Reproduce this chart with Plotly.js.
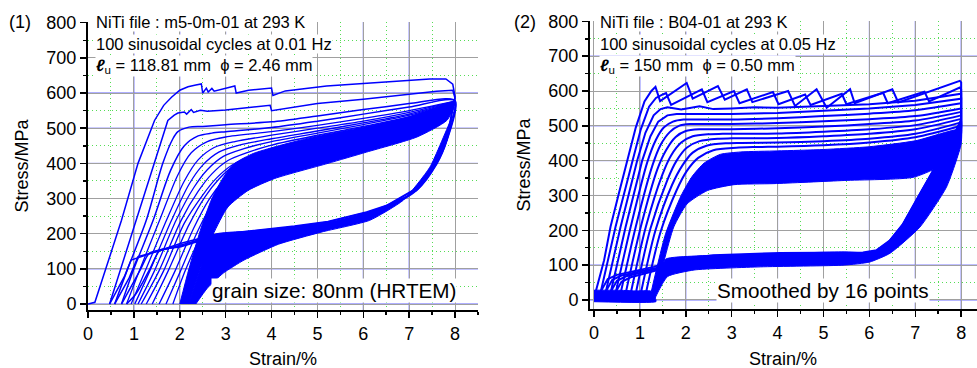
<!DOCTYPE html>
<html><head><meta charset="utf-8">
<script src="https://cdn.plot.ly/plotly-3.0.1.min.js"></script>
<style>html,body{margin:0;padding:0;background:#fff}#chart{width:977px;height:368px}</style>
</head><body><div id="chart"></div>
<script>
// ---------- tick labels ----------
const xTicks = [0,1,2,3,4,5,6,7,8];
const yTicks = [0,100,200,300,400,500,600,700,800];
const blueGridL_x = [1,2,3,4,6,7];
const blueGridL_y = [0,100,400,500,600];
const blueGridR_x = [1,2,3,4,6,7,8];
const blueGridR_y = [0,100,300,400,500,700];

// ---------- panel (1): NiTi m5-0m-01, strain (%) / stress (MPa) ----------
const L1x = [0,0.15,0.4,0.73,1.09,1.45,1.65,1.82,2.0,2.18,2.35,2.47,2.5,2.58,2.62,2.7,2.75,3.2,3.23,3.5,4.0,4.03,4.3,5.2,6.0,7.0,7.45,7.8,7.95,8.0,7.95,7.82,7.6,7.17,6.5,6.07,5.23,4.5,3.5,2.72,2.03,1.5,1.2,0.94,0.8,0.6,0.47];
const L1y = [0,5,105,238,400,522,565,588,608,618,623,626,600,614,603,613,605,620,600,608,614,593,606,620,627,636,640,640,625,590,560,470,405,330,280,262,235,222,208,196,173,150,135,125,80,30,0];
const L2x = [0.47,0.7,1.05,1.45,1.74,1.88,1.96,2.1,2.15,2.25,2.3,2.45,2.6,3.0,3.5,3.97,4.0,4.5,5.0,6.0,7.0,7.6,7.95,8.0,7.82,7.6,7.17,6.5,6.07,5.23,4.5,3.5,2.72,2.03,1.5,1.25,1.09,0.9,0.58];
const L2y = [0,95,238,400,522,537,543,546,540,553,545,551,548,552,558,565,550,560,570,582,597,605,608,585,468,402,328,278,260,233,220,206,194,168,150,142,135,75,0];
const L3x = [0.58,0.85,1.27,1.63,1.85,1.96,2.2,2.5,3.0,4.0,5.0,6.0,7.0,7.8,8.0,7.82,7.6,7.17,6.5,6.07,5.23,4.5,3.5,2.72,2.03,1.6,1.34,1.15,0.9,0.73];
const L3y = [0,95,238,400,470,490,503,505,510,518,535,553,570,584,578,466,400,326,276,258,231,218,204,192,165,155,145,100,40,0];
const L4x = [0.73,1.0,1.42,1.8,2.1,2.4,2.7,3.0,4.0,5.0,6.0,7.0,8.0,7.82,7.6,7.17,6.5,6.07,5.23,4.5,3.5,2.72,2.03,1.75,1.56,1.35,1.05,0.84];
const L4y = [0,100,238,380,450,478,486,490,502,520,540,560,578,464,398,324,274,256,229,216,202,190,163,158,152,100,30,0];
const L5x = [0.84,1.12,1.56,1.95,2.25,2.6,3.0,4.0,5.0,6.0,7.0,8.0];
const L5y = [0,95,238,365,430,462,475,490,508,528,550,577];
const L6x = [0.94,1.25,1.71,2.1,2.4,2.75,3.2,4.0,5.0,6.0,7.0,8.0];
const L6y = [0,95,238,350,410,445,462,480,500,520,545,577];
const L7x = [1.02,1.35,1.82,2.2,2.5,2.85,3.3,4.0,5.0,6.0,7.0,8.0];
const L7y = [0,95,238,340,395,432,452,470,492,515,540,576];
const L8x = [1.09,1.45,1.92,2.3,2.6,2.95,3.4,4.0,5.0,6.0,7.0,8.0];
const L8y = [0,95,238,330,382,420,442,462,486,510,537,575];
const L9x = [1.16,1.55,2.03,2.4,2.7,3.05,3.5,4.0,5.0,6.0,7.0,8.0];
const L9y = [0,95,238,320,370,408,432,452,480,505,533,574];
const L10x = [1.27,1.65,2.1,2.5,2.8,3.15,3.6,4.1,5.0,6.0,7.0,8.0];
const L10y = [0,95,230,310,358,396,423,445,474,500,530,573];
const L12x = [1.4,1.75,2.2,2.55,2.85,3.2,3.65,4.1,5.0,6.0,7.0,8.0];
const L12y = [0,95,225,305,355,395,420,440,470,497,528,572];
const L14x = [1.55,1.9,2.3,2.65,2.95,3.3,3.7,4.2,5.0,6.0,7.0,8.0];
const L14y = [0,95,215,300,350,390,415,437,466,494,526,571];
const L17x = [1.7,2.02,2.4,2.75,3.05,3.4,3.8,4.3,5.0,6.0,7.0,8.0];
const L17y = [0,95,210,295,345,385,410,432,462,492,524,570];
const L21x = [1.85,2.12,2.5,2.85,3.15,3.5,3.9,4.4,5.0,6.0,7.0,8.0];
const L21y = [0,95,205,290,340,380,405,428,458,490,522,570];
const LbandTopX = [2.0,2.2,2.45,2.7,2.95,3.2,3.6,4.1,5.0,6.0,7.0,8.0];
const LbandTopY = [0,100,210,300,360,400,428,448,478,503,532,573];
const LlastX = [2.2,2.45,2.72,3.05,3.49,4.07,5.23,6.07,7.17,7.82,8.0];
const LlastY = [0,100,196,276,323,357,400,432,475,522,565];
const LunloadX = [2.2,2.45,2.72,3.5,4.5,5.23,6.07,7.17,7.6,7.82,8.0,8.0,7.93,7.45,6.87,6.14,5.1,4.15,3.4,2.95,2.6,2.35];
const LunloadY = [0,100,196,207,220,229,258,323,400,465,560,545,530,389,295,238,205,170,125,88,45,0];

// ---------- panel (2): NiTi B04-01 ----------
const R1x = [0.0,0.04,0.22,0.36,0.54,0.73,0.91,1.1,1.25,1.34,1.44,2.02,2.15,2.7,2.85,3.33,3.45,4.23,4.38,4.85,5.07,5.58,5.68,6.5,6.63,7.97,8.0,8.0,7.82,7.47,7.1,6.74,6.45,6.16,5.86,4.05,2.6,1.87,1.3,0.8,0.5,0.3,0.15];
const R1y = [25,25,114,210,305,400,495,570,600,612,571,623,578,614,575,605,568,600,557,605,552,605,565,605,567,629,625,500,440,390,305,219,171,143,136,135,128,118,95,82,72,60,25];
const R2x = [0.15,0.47,0.84,1.02,1.2,1.35,1.5,1.57,1.68,2.35,2.47,3.05,3.17,3.9,4.02,4.6,4.72,5.4,5.5,6.3,6.4,7.2,7.3,7.97,8.0,8.0,7.8,7.45,7.08,6.72,6.43,6.14,5.86,4.05,2.6,1.87,1.35,0.9,0.6,0.4,0.26];
const R2y = [25,210,400,490,555,580,590,594,560,605,568,600,565,597,562,590,560,592,562,595,565,598,570,610,605,495,435,385,300,215,168,140,132,131,124,114,92,80,70,58,25];
const R3x = [0.26,0.58,0.94,1.12,1.3,1.45,1.6,1.9,2.3,2.6,3.0,3.5,4.0,5.0,6.0,7.0,8.0,8.0,7.8,7.45,7.08,6.72,6.43,6.14,5.86,4.05,2.6,1.87,1.4,1.0,0.7,0.5,0.37];
const R3y = [25,210,400,480,530,548,553,547,556,548,550,553,552,556,562,572,592,490,430,380,296,212,165,138,130,128,121,111,90,78,68,55,25];
const R4x = [0.37,0.69,1.05,1.23,1.4,1.6,1.8,2.2,3.0,4.0,5.0,6.0,7.0,8.0,8.0,7.8,7.45,7.08,6.72,6.43,6.14,5.86,4.05,2.6,1.87,1.45,1.1,0.8,0.6,0.48];
const R4y = [25,210,400,470,512,530,534,534,534,537,543,550,560,578,485,425,375,292,208,162,136,128,126,119,108,88,75,65,52,25];
const R5x = [0.48,0.8,1.16,1.35,1.52,1.72,1.95,2.3,3.0,4.0,5.0,6.0,7.0,8.0];
const R5y = [25,210,395,460,495,512,518,518,518,522,528,535,545,565];
const R6x = [0.59,0.91,1.27,1.45,1.65,1.85,2.1,2.5,3.0,4.0,5.0,6.0,7.0,8.0];
const R6y = [25,210,385,445,482,500,505,505,505,508,513,519,528,550];
const R7x = [0.7,1.02,1.38,1.57,1.78,2.0,2.3,2.6,3.0,4.0,5.0,6.0,7.0,8.0];
const R7y = [25,210,375,430,468,485,490,490,490,493,498,505,515,540];
const R8x = [0.81,1.13,1.49,1.68,1.9,2.15,2.5,2.8,4.0,5.0,6.0,7.0,8.0];
const R8y = [25,210,360,415,452,470,476,477,478,483,490,502,530];
const R9x = [0.92,1.23,1.6,1.8,2.02,2.3,2.7,3.0,4.0,5.0,6.0,7.0,8.0];
const R9y = [25,205,345,400,437,456,463,464,465,470,477,490,520];
const R10x = [1.03,1.34,1.7,1.92,2.15,2.45,2.9,3.2,4.0,5.0,6.0,7.0,8.0];
const R10y = [25,200,330,385,423,443,450,451,452,456,463,477,510];
const R12x = [1.14,1.45,1.8,2.02,2.27,2.6,3.1,3.5,4.0,5.0,6.0,7.0,8.0];
const R12y = [25,195,315,370,408,430,437,439,440,444,452,467,500];
const RbandTopX = [1.25,1.56,1.9,2.14,2.4,2.75,3.2,4.0,5.0,6.0,7.0,8.0];
const RbandTopY = [25,190,300,355,393,418,425,428,432,440,457,490];
const RlastX = [1.31,1.53,1.74,2.03,2.47,3.05,3.92,5.45,6.95,7.47,7.8,8.0];
const RlastY = [0,114,210,276,314,331,334,343,352,380,420,470];
const RunloadX = [1.31,1.6,2.18,3.63,5.45,6.01,6.45,7.1,7.68,8.0,8.0,7.82,7.47,7.1,6.74,6.45,6.16,5.86,5.45,3.63,2.18,1.56,1.4];
const RunloadY = [0,67,86,95,100,109,134,209,324,448,520,470,390,305,219,171,143,136,138,132,126,117,60];
const RbaseX = [0,1.35,1.35,1.25,0.9,0.5,0];
const RbaseY = [-5,-5,0,25,26,28,28];

const BLUE = '#0000ff';
function line(x, y, ax, w, sm){
  return {x:x, y:y, xaxis:ax[0], yaxis:ax[1], mode:'lines', type:'scatter',
    line: sm ? {color:BLUE, width:w, shape:'spline', smoothing:0.8} : {color:BLUE, width:w}, hoverinfo:'skip'};
}
function band(x1, y1, x2, y2, ax){
  return {x:x1.concat(x2.slice().reverse()), y:y1.concat(y2.slice().reverse()), xaxis:ax[0], yaxis:ax[1], mode:'lines', type:'scatter', fill:'toself', fillcolor:BLUE, line:{color:BLUE, width:1, shape:'spline', smoothing:0.6}, hoverinfo:'skip'};
}
function poly(x, y, ax){return {x:x, y:y, xaxis:ax[0], yaxis:ax[1], mode:'lines', type:'scatter', fill:'toself', fillcolor:BLUE, line:{color:BLUE, width:1, shape:'spline', smoothing:0.5}, hoverinfo:'skip'};}
const A1 = ['x','y'], A2 = ['x2','y2'];

const traces = [
  band(LbandTopX, LbandTopY, LlastX, LlastY, A1),
  poly(LunloadX, LunloadY, A1),
  line(L1x,L1y,A1,1.5,false), line(L2x,L2y,A1,1.5,false), line(L3x,L3y,A1,1.5,true), line(L4x,L4y,A1,1.5,true),
  line(L5x,L5y,A1,1.3,true), line(L6x,L6y,A1,1.3,true), line(L7x,L7y,A1,1.3,true), line(L8x,L8y,A1,1.3,true),
  line(L9x,L9y,A1,1.3,true), line(L10x,L10y,A1,1.3,true), line(L12x,L12y,A1,1.3,true), line(L14x,L14y,A1,1.3,true),
  line(L17x,L17y,A1,1.3,true), line(L21x,L21y,A1,1.3,true),
  band(RbandTopX, RbandTopY, RlastX, RlastY, A2),
  poly(RunloadX, RunloadY, A2),
  poly(RbaseX, RbaseY, A2),
  line(R1x,R1y,A2,2,false), line(R2x,R2y,A2,2,false), line(R3x,R3y,A2,2,false), line(R4x,R4y,A2,2,false),
  line(R5x,R5y,A2,2,true), line(R6x,R6y,A2,2,true), line(R7x,R7y,A2,2,true), line(R8x,R8y,A2,2,true),
  line(R9x,R9y,A2,2,true), line(R10x,R10y,A2,2,true), line(R12x,R12y,A2,2,true)
];

const GRAY = '#a0a0a0', GBLUE = '#5a5aff', GREEN = '#55dd55';
function common(){
  return {showline:true, linecolor:'black', linewidth:2, ticks:'outside', ticklen:6, tickwidth:1.5, tickcolor:'black',
    showgrid:true, gridcolor:GRAY, gridwidth:1, zeroline:false, tickfont:{size:18, color:'black'}, fixedrange:true, tickmode:'array'};
}
function xAx(dom, rng, yanchor){
  return Object.assign(common(), {domain:dom, range:rng, anchor:yanchor, tickvals:xTicks, ticktext:xTicks.map(String),
    minor:{dtick:0.5, tick0:0, ticks:'outside', ticklen:3, tickcolor:'black', tickwidth:1.5, showgrid:true, gridcolor:GREEN, griddash:'1px,3px', gridwidth:1}});
}
function yAx(dom, rng, xanchor){
  return Object.assign(common(), {domain:dom, range:rng, anchor:xanchor, tickvals:yTicks, ticktext:yTicks.map(String),
    minor:{dtick:50, tick0:0, ticks:'outside', ticklen:3, tickcolor:'black', tickwidth:1.5, showgrid:true, gridcolor:GREEN, griddash:'1px,3px', gridwidth:1},
    title:{text:'Stress/MPa', font:{size:18, color:'black'}, standoff:13}});
}

const shapes = [];
blueGridL_x.forEach(v=>shapes.push({type:'line', xref:'x', yref:'y domain', x0:v, x1:v, y0:0, y1:1, line:{color:GBLUE, width:1}, layer:'below'}));
blueGridL_y.forEach(v=>shapes.push({type:'line', xref:'x domain', yref:'y', x0:0, x1:1, y0:v, y1:v, line:{color:GBLUE, width:1}, layer:'below'}));
blueGridR_x.forEach(v=>shapes.push({type:'line', xref:'x2', yref:'y2 domain', x0:v, x1:v, y0:0, y1:1, line:{color:GBLUE, width:1}, layer:'below'}));
blueGridR_y.forEach(v=>shapes.push({type:'line', xref:'x2 domain', yref:'y2', x0:0, x1:1, y0:v, y1:v, line:{color:GBLUE, width:1}, layer:'below'}));

const PH = 368;
function note(text, xpx, ypx, size, bg, anchor){
  return {text:text, xref:'paper', yref:'paper', x:xpx/977, y:(PH-ypx)/PH, xanchor:anchor||'left', yanchor:'middle', showarrow:false,
    font:{size:size, color:'black'}, bgcolor:bg===false ? 'rgba(0,0,0,0)' : 'white', borderpad:0};
}
const NB = '\u00a0';
const annotations = [
  note('(1)', 8, 22, 18),
  note('(2)', 513, 22, 18),
  note('NiTi file : m5-0m-01 at 293 K', 95, 22, 16.5),
  note('100 sinusoidal cycles at 0.01 Hz', 95, 44, 16.5),
  note('<b><i>ℓ</i></b><sub>u</sub> = 118.81 mm'+NB+NB+'ϕ = 2.46 mm', 95, 66, 16.5),
  note('NiTi file : B04-01 at 293 K', 599, 22, 16.5),
  note('100 sinusoidal cycles at 0.05 Hz', 599, 44, 16.5),
  note('<b><i>ℓ</i></b><sub>u</sub> = 150 mm'+NB+NB+'ϕ = 0.50 mm', 599, 66, 16.5),
  note('grain size: 80nm (HRTEM)', 211, 290, 20.7),
  note('Smoothed by 16 points', 716, 290, 20.7),
  note('Strain/%', 283, 359, 18, false, 'center'),
  note('Strain/%', 783, 359, 18, false, 'center')
];

const layout = {
  width:977, height:368, margin:{l:0, r:0, t:0, b:0}, paper_bgcolor:'white', plot_bgcolor:'white', showlegend:false,
  font:{family:'Liberation Sans, Arial, Helvetica, sans-serif', color:'black'},
  xaxis: xAx([88/977, 478/977], [0, 8.5], 'y'),
  yaxis: yAx([(PH-310)/PH, (PH-22)/PH], [-17, 802], 'x'),
  xaxis2: xAx([590/977, 1], [-0.087, 8.345], 'y2'),
  yaxis2: yAx([(PH-309)/PH, (PH-21)/PH], [-26, 801], 'x2'),
  shapes: shapes, annotations: annotations
};
Plotly.newPlot('chart', traces, layout, {staticPlot:true, displayModeBar:false});
</script></body></html>
